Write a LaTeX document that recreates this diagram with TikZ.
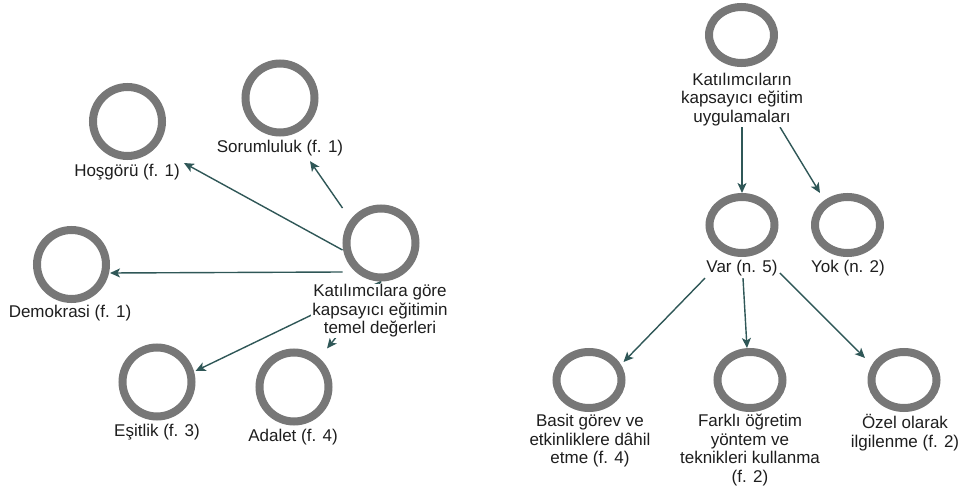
\documentclass[tikz,border=0pt]{standalone}
\usepackage{fontspec}
\setmainfont{Liberation Sans}
\usetikzlibrary{arrows.meta,shapes.geometric,calc,backgrounds}
\definecolor{ringgray}{HTML}{777777}
\definecolor{linkteal}{HTML}{2F5757}
\definecolor{inkdark}{HTML}{1E1E1E}
\begin{document}
\begin{tikzpicture}[x=1pt,y=-1pt,
  ring/.style={draw=ringgray,line width=8pt,circle,minimum size=69pt,inner sep=0pt},
  oval/.style={draw=ringgray,line width=8pt,ellipse,minimum width=65pt,minimum height=56pt,inner sep=0pt},
  tag/.style={fill=white,inner sep=1pt,align=center,text=inkdark,
    font=\fontsize{17}{18.5}\selectfont},
  conn/.style={draw=linkteal,line width=1.4pt,
    -{Stealth[length=10pt,width=9pt,inset=2.5pt]}}]
\useasboundingbox (0,0) rectangle (962,489);

% ---- values of inclusive education (left) ----
\node[ring] (cc)  at (381,243) {};
\node[ring] (hos) at (127.5,121.5) {};
\node[ring] (sor) at (280,98) {};
\node[ring] (dem) at (71.5,264.5) {};
\node[ring] (esi) at (157,382) {};
\node[ring] (ada) at (294,387) {};

\node[tag] (cclab)  at (380,311) {Katılımcılara göre\\kapsayıcı eğitimin\\temel değerleri};
\node[tag] (hoslab) at (127,172) {Hoşgörü (f. 1)};
\node[tag] (sorlab) at (280,148) {Sorumluluk (f. 1)};
\node[tag] (demlab) at (70,313) {Demokrasi (f. 1)};
\node[tag] (esilab) at (157,432) {Eşitlik (f. 3)};
\node[tag] (adalab) at (293,437) {Adalet (f. 4)};

% ---- inclusive education practices (right) ----
\node[oval] (top) at (741.5,35) {};
\node[oval] (var) at (742,225) {};
\node[oval] (yok) at (847.5,225) {};
\node[oval] (bas) at (589,380) {};
\node[oval] (far) at (750,380) {};
\node[oval] (oz)  at (904,380) {};

\node[tag] (toplab) at (742,99.5) {Katılımcıların\\kapsayıcı eğitim\\uygulamaları};
\node[tag] (varlab) at (742,268) {Var (n. 5)};
\node[tag] (yoklab) at (848,268) {Yok (n. 2)};
\node[tag] (baslab) at (590,441) {Basit görev ve\\etkinliklere dâhil\\etme (f. 4)};
\node[tag] (farlab) at (750,450) {Farklı öğretim\\yöntem ve\\teknikleri kullanma\\(f. 2)};
\node[tag] (ozlab)  at (905,432.5) {Özel olarak\\ilgilenme (f. 2)};

% ---- connectors, kept behind the labels ----
\begin{pgfonlayer}{background}
\draw[conn] ($(cc.west)+(0,7)$)   -- ($(hoslab.east)+(3,-9)$);
\draw[conn] ($(cc.west)+(0,-35)$) -- ($(sorlab.south)+(30,4)$);
\draw[conn] ($(cc.west)+(0,29)$)  -- ($(dem.east)+(0,8.5)$);
\draw[conn] (cc.south) -- ($(esi.east)+(0,-11)$);
\draw[conn] (cc.south) -- ($(ada.north)+(33,0)$);

\draw[conn] (toplab.south) -- (var.north);
\draw[conn] ($(toplab.south)+(38,0)$) -- ($(yok.north)+(-27.5,0)$);
\draw[conn] ($(varlab.south)+(-37,1)$) -- ($(bas.east)+(-2,-18)$);
\draw[conn] ($(varlab.south)+(1,1)$) -- ($(far.north)+(-3,0)$);
\draw[conn] ($(varlab.east)+(1,5)$) -- ($(oz.west)+(-2.5,-22)$);
\end{pgfonlayer}
\end{tikzpicture}
\end{document}
